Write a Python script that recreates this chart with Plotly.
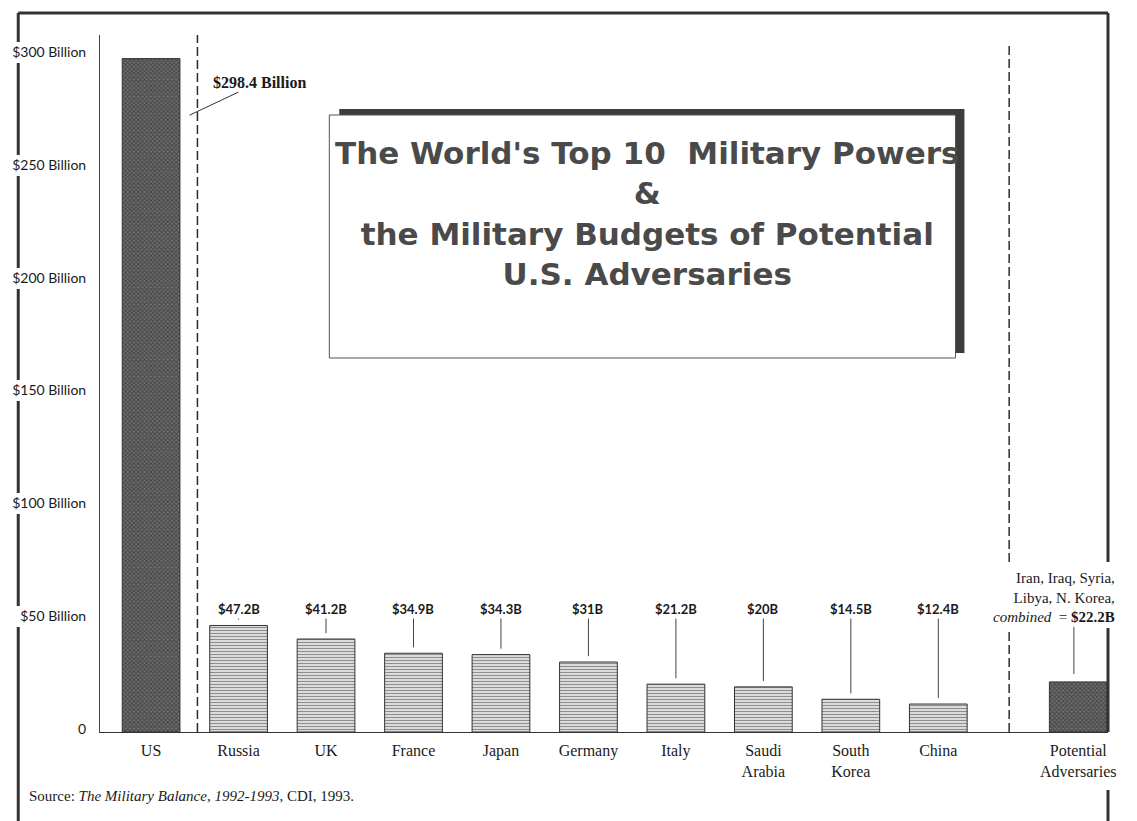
import plotly.graph_objects as go

# ---------------- data ----------------
countries = ["US", "Russia", "UK", "France", "Japan", "Germany", "Italy",
             "Saudi<br>Arabia", "South<br>Korea", "China"]
budgets = [298.4, 47.2, 41.2, 34.9, 34.3, 31.0, 21.2, 20.0, 14.5, 12.4]
value_labels = ["$298.4 Billion", "$47.2B", "$41.2B", "$34.9B", "$34.3B",
                "$31B", "$21.2B", "$20B", "$14.5B", "$12.4B"]
adv_category = "Potential<br>Adversaries"
adv_budget = 22.2
adv_label = "Iran, Iraq, Syria,<br>Libya, N. Korea,<br><i>combined</i>  = <b>$22.2B</b>"
ytick_vals = [0, 50, 100, 150, 200, 250, 300]
ytick_text = ["0", "$50 Billion", "$100 Billion", "$150 Billion",
              "$200 Billion", "$250 Billion", "$300 Billion"]
title_lines = ["The World's Top 10  Military Powers", "&",
               "the Military Budgets of Potential", "U.S. Adversaries"]
source_text = "Source: <i>The Military Balance, 1992-1993</i>, CDI, 1993."

# ---------------- layout geometry ----------------
W, H = 1137, 821
L, R, T, B = 97, 1108, 35, 732
X0, X1 = -0.584, 10.94
YMAX = 308.86
xs = list(range(len(countries)))
adv_x = len(countries) + 0.6

def px(xp):
    return (xp - L) / (R - L)

def py(yp):
    return (B - yp) / (B - T)

DARK = "#2b2b2b"
SERIF = "Liberation Serif"
SANS = "Lato"

HATCH = dict(shape="x", fgcolor="#151515", bgcolor="#707070", size=3, solidity=0.5)
LINES = dict(shape="-", fgcolor="#1e1e1e", bgcolor="white", size=3, solidity=0.55)

fig = go.Figure()

# US bar (dark cross-hatch)
fig.add_trace(go.Bar(
    x=[xs[0]], y=[budgets[0]], width=0.66,
    marker=dict(color="#505050", pattern=HATCH,
                line=dict(color="#333333", width=1)),
    showlegend=False, hoverinfo="skip"))

# other top-10 bars (horizontal line pattern)
fig.add_trace(go.Bar(
    x=xs[1:], y=budgets[1:], width=0.66,
    marker=dict(color="white", pattern=LINES,
                line=dict(color="#333333", width=1)),
    showlegend=False, hoverinfo="skip"))

# potential adversaries bar
fig.add_trace(go.Bar(
    x=[adv_x], y=[adv_budget], width=0.66,
    marker=dict(color="#505050", pattern=HATCH,
                line=dict(color="#333333", width=1)),
    showlegend=False, hoverinfo="skip"))

# leader line for adversaries
fig.add_trace(go.Scatter(
    x=[adv_x - 0.05, adv_x - 0.05], y=[adv_budget + 3.5, 46.5],
    mode="lines", line=dict(color="#444444", width=1),
    showlegend=False, hoverinfo="skip"))

annotations = []
# value labels for countries 2..10 with leader lines
for x, v, lab in zip(xs[1:], budgets[1:], value_labels[1:]):
    annotations.append(dict(
        x=x, y=v + 2.6, xref="x", yref="y",
        ax=x, ay=54.5, axref="x", ayref="y",
        text="<b>" + lab + "</b>", showarrow=True, arrowhead=0,
        arrowwidth=1, arrowcolor="#444444",
        font=dict(family=SANS, size=13, color="#1a1a1a")))

# US value label
annotations.append(dict(
    x=xs[0] + 0.44, y=budgets[0] * 0.916, xref="x", yref="y",
    ax=70, ay=-33, text="<b>" + value_labels[0] + "</b>", showarrow=True,
    arrowhead=0, arrowwidth=1, arrowcolor="#333333",
    font=dict(family=SERIF, size=16, color="#1a1a1a")))

# adversary text
annotations.append(dict(
    x=px(1117), y=py(597), xref="paper", yref="paper",
    xanchor="right", yanchor="middle", align="right",
    text=adv_label, showarrow=False,
    font=dict(family=SERIF, size=15, color="#1a1a1a")))

# title (single block)
annotations.append(dict(
    x=px(646), y=py(213), xref="paper", yref="paper",
    xanchor="center", yanchor="middle", align="center",
    text="<br>".join("<b>" + t + "</b>" for t in title_lines), showarrow=False,
    font=dict(family="DejaVu Sans", size=31, color="#4a4a4a")))

# source
annotations.append(dict(
    x=px(24), y=py(796), xref="paper", yref="paper",
    xanchor="left", yanchor="middle", text=source_text, showarrow=False,
    font=dict(family=SERIF, size=15, color="#1a1a1a")))

shapes = []
# title box shadow and box
shapes.append(dict(type="rect", xref="paper", yref="paper", layer="below",
                   x0=px(337), x1=px(964), y0=py(109), y1=py(353),
                   fillcolor="#3c3c3c", line=dict(width=0)))
shapes.append(dict(type="rect", xref="paper", yref="paper", layer="below",
                   x0=px(327), x1=px(955), y0=py(115), y1=py(358),
                   fillcolor="white", line=dict(color="#555555", width=1)))

# dashed separators
dash = "9px,4px"
shapes.append(dict(type="line", xref="x", yref="paper", x0=0.53, x1=0.53,
                   y0=0, y1=1, line=dict(color=DARK, width=1.5, dash=dash)))
shapes.append(dict(type="line", xref="x", yref="paper", x0=9.81, x1=9.81,
                   y0=0, y1=py(628), line=dict(color=DARK, width=1.5, dash=dash)))
shapes.append(dict(type="line", xref="x", yref="paper", x0=9.81, x1=9.81,
                   y0=py(562), y1=py(43), line=dict(color=DARK, width=1.5, dash=dash)))

# outer frame (thick scanned border)
FR = dict(color="#333333", width=3)
# top
shapes.append(dict(type="line", xref="paper", yref="paper",
                   x0=px(15), x1=px(1108), y0=py(13), y1=py(13), line=FR))
# left, broken where the tick labels sit
left_segments = [(13, 42), (63, 155), (176, 268), (289, 380), (401, 493),
                 (514, 606), (627, 821)]
for a, b in left_segments:
    shapes.append(dict(type="line", xref="paper", yref="paper",
                       x0=px(15), x1=px(15), y0=py(a), y1=py(b), line=FR))
# right, broken for texts
for a, b in [(13, 562), (628, 732), (790, 821)]:
    shapes.append(dict(type="line", xref="paper", yref="paper",
                       x0=px(1108), x1=px(1108), y0=py(a), y1=py(b), line=FR))

fig.update_layout(
    width=W, height=H,
    margin=dict(l=L, r=W - R, t=T, b=H - B, pad=0),
    paper_bgcolor="white", plot_bgcolor="white",
    barmode="overlay", showlegend=False,
    annotations=annotations, shapes=shapes,
    xaxis=dict(range=[X0, X1], tickvals=xs + [adv_x],
               ticktext=countries + [adv_category],
               showgrid=False, zeroline=False, showline=True,
               linecolor="#333333", linewidth=1, ticks="",
               ticklabelstandoff=4,
               tickfont=dict(family=SERIF, size=16, color="#1a1a1a")),
    yaxis=dict(range=[0, YMAX], tickvals=ytick_vals, ticktext=ytick_text,
               showgrid=False, zeroline=False, showline=True,
               linecolor="#444444", linewidth=1, ticks="",
               ticklabelstandoff=10, ticklabelshift=-3,
               tickfont=dict(family=SANS, size=14, color="#1a1a1a")),
)

fig.write_html("out.html", config={"displayModeBar": False},
               post_script="document.body.style.margin='0';")
